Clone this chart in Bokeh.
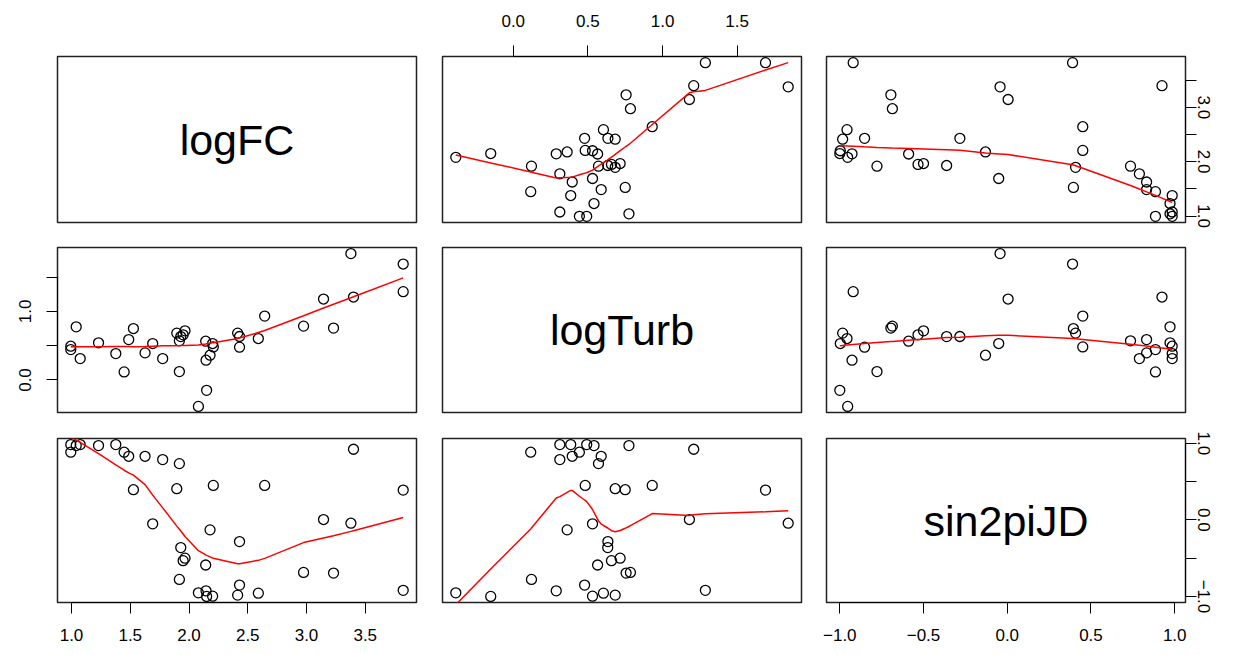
import numpy as np
from bokeh.plotting import figure
from bokeh.models import Range1d, LinearAxis, FixedTicker, Label
from bokeh.layouts import column, row
from bokeh.embed import file_html
from bokeh.resources import INLINE

# ---------------- data ----------------
var_names = ["logFC", "logTurb", "sin2piJD"]

logFC = [0.994, 0.994, 1.040, 1.074, 1.230, 1.377, 1.448, 1.487, 1.527, 1.626,
         1.691, 1.776, 1.896, 1.918, 1.918, 1.930, 1.950, 1.966, 2.080, 2.142,
         2.145, 2.150, 2.179, 2.201, 2.207, 2.414, 2.430, 2.430, 2.590, 2.644,
         2.975, 3.145, 3.230, 3.378, 3.400, 3.823, 3.823]
logTurb = [0.492, 0.443, 0.775, 0.312, 0.541, 0.385, 0.117, 0.589, 0.750, 0.395,
           0.531, 0.312, 0.683, 0.571, 0.122, 0.633, 0.658, 0.716, -0.385, 0.565,
           0.288, -0.151, 0.361, 0.531, 0.482, 0.683, 0.634, 0.478, 0.604, 0.931,
           0.785, 1.180, 0.756, 1.842, 1.209, 1.690, 1.287]
sin2piJD = [0.985, 0.885, 0.972, 0.985, 0.972, 0.985, 0.885, 0.832, 0.395, 0.832,
            -0.051, 0.789, 0.408, 0.736, -0.778, -0.362, -0.533, -0.500, -0.953, -0.589,
            -0.927, -1.000, -0.130, -0.997, 0.451, -0.983, -0.283, -0.852, -0.957, 0.451,
            -0.686, 0.005, -0.695, -0.043, 0.924, 0.390, -0.920]

logFC_ticks = [1.0, 1.5, 2.0, 2.5, 3.0, 3.5]
logFC_bottom_labels = ["1.0", "1.5", "2.0", "2.5", "3.0", "3.5"]
logFC_right_labels = ["1.0", "", "2.0", "", "3.0", ""]
logTurb_ticks = [0.0, 0.5, 1.0, 1.5]
logTurb_top_labels = ["0.0", "0.5", "1.0", "1.5"]
logTurb_left_labels = ["0.0", "", "1.0", ""]
sin_ticks = [-1.0, -0.5, 0.0, 0.5, 1.0]
sin_bottom_labels = ["\u22121.0", "\u22120.5", "0.0", "0.5", "1.0"]
sin_right_labels = ["\u22121.0", "", "0.0", "", "1.0"]

data = [np.array(logFC, float), np.array(logTurb, float), np.array(sin2piJD, float)]


def clowess(x, y, f=2.0 / 3.0, nsteps=3):
    o = np.argsort(x, kind="mergesort")
    x = np.asarray(x, float)[o]
    y = np.asarray(y, float)[o]
    n = len(x)
    rng = x[-1] - x[0]
    delta = 0.01 * rng
    ns = max(min(int(f * n + 1e-7), n), 2)
    rw = np.ones(n)
    ys = np.zeros(n)

    def lowest(xs, nleft, nright, userw):
        h = max(xs - x[nleft], x[nright] - xs)
        h9 = 0.999 * h
        h1 = 0.001 * h
        w = np.zeros(n)
        a = 0.0
        j = nleft
        while j < n:
            r = abs(x[j] - xs)
            if r <= h9:
                w[j] = 1.0 if r <= h1 else (1 - (r / h) ** 3) ** 3
                if userw:
                    w[j] *= rw[j]
                a += w[j]
            elif x[j] > xs:
                break
            j += 1
        nrt = j - 1
        if a <= 0:
            return None
        sl = slice(nleft, nrt + 1)
        w[sl] /= a
        if h > 0:
            a = np.sum(w[sl] * x[sl])
            b = xs - a
            c = np.sum(w[sl] * (x[sl] - a) ** 2)
            if np.sqrt(c) > 0.001 * rng:
                b /= c
                w[sl] *= (b * (x[sl] - a) + 1.0)
        return float(np.sum(w[sl] * y[sl]))

    for it in range(1, nsteps + 2):
        nleft, nright, last, i = 0, ns - 1, -1, 0
        while True:
            if nright < n - 1:
                if x[i] - x[nleft] > x[nright + 1] - x[i]:
                    nleft += 1
                    nright += 1
                    continue
            val = lowest(x[i], nleft, nright, it > 1)
            ys[i] = val if val is not None else y[i]
            if last < i - 1:
                denom = x[i] - x[last]
                for j in range(last + 1, i):
                    al = (x[j] - x[last]) / denom
                    ys[j] = al * ys[i] + (1 - al) * ys[last]
            last = i
            cut = x[last] + delta
            i = last + 1
            while i < n:
                if x[i] > cut:
                    break
                if x[i] == x[last]:
                    ys[i] = ys[last]
                    last = i
                i += 1
            i = max(last + 1, i - 1)
            if last >= n - 1:
                break
        res = y - ys
        sc = np.sum(np.abs(res)) / n
        if it > nsteps:
            break
        ar = np.abs(res)
        cmad = 6 * np.median(ar)
        if cmad < 1e-7 * sc:
            break
        c9, c1 = 0.999 * cmad, 0.001 * cmad
        rw = np.where(ar <= c1, 1.0, np.where(ar <= c9, (1 - (ar / cmad) ** 2) ** 2, 0.0))
    return x, ys


def ext_range(v):
    lo, hi = float(np.min(v)), float(np.max(v))
    d = 0.04 * (hi - lo)
    return lo - d, hi + d


ranges = [ext_range(v) for v in data]

FONT = "Liberation Sans"
col_w = [429, 384, 423]
col_lb = [57, 13, 13]
col_rb = [13, 12, 51]
row_h = [234, 191, 230]
row_tb = [56, 13, 13]
row_bb = [12, 13, 53]


def make_axis(ticks, labels, vertical=False, standoff=14):
    ax = LinearAxis(ticker=FixedTicker(ticks=ticks, minor_ticks=[]),
                    major_label_overrides={float(t): l for t, l in zip(ticks, labels)},
                    bounds=(ticks[0], ticks[-1]))
    ax.axis_line_color = "black"
    ax.axis_line_width = 1
    ax.major_tick_line_color = "black"
    ax.major_tick_out = 11
    ax.major_tick_in = 0
    ax.minor_tick_out = 0
    ax.minor_tick_in = 0
    ax.major_label_text_font = FONT
    ax.major_label_text_font_size = "17px"
    ax.major_label_text_color = "black"
    ax.major_label_standoff = standoff
    if vertical:
        ax.major_label_orientation = "vertical"
    return ax


rows = []
for i in range(3):
    figs = []
    for j in range(3):
        xr = ranges[j]
        yr = ranges[i]
        p = figure(width=col_w[j], height=row_h[i],
                   x_range=Range1d(*xr), y_range=Range1d(*yr),
                   x_axis_location=None, y_axis_location=None,
                   toolbar_location=None, output_backend="svg",
                   min_border_left=col_lb[j], min_border_right=col_rb[j],
                   min_border_top=row_tb[i], min_border_bottom=row_bb[i])
        p.grid.visible = False
        p.outline_line_color = "#222222"
        p.outline_line_width = 1.5
        p.background_fill_color = "white"
        p.border_fill_color = "white"
        if i == j:
            p.add_layout(Label(x=(xr[0] + xr[1]) / 2, y=(yr[0] + yr[1]) / 2,
                               text=var_names[i], text_align="center",
                               text_baseline="middle", text_font=FONT,
                               text_font_size="43px", text_color="black"))
        else:
            xv, yv = data[j], data[i]
            p.scatter(xv, yv, marker="circle", size=10, fill_color=None,
                      line_color="black", line_width=1.3)
            lx, ly = clowess(xv, yv)
            p.line(lx, ly, line_color="red", line_width=1.5)
        # axes as in R's pairs()
        if i == 0 and j == 1:
            p.add_layout(make_axis(logTurb_ticks, logTurb_top_labels, standoff=19), "above")
        if i == 0 and j == 2:
            p.add_layout(make_axis(logFC_ticks, logFC_right_labels, vertical=True, standoff=1), "right")
        if i == 1 and j == 0:
            p.add_layout(make_axis(logTurb_ticks, logTurb_left_labels, vertical=True, standoff=15), "left")
        if i == 2 and j == 0:
            p.add_layout(make_axis(logFC_ticks, logFC_bottom_labels, standoff=15), "below")
        if i == 2 and j == 2:
            p.add_layout(make_axis(sin_ticks, sin_bottom_labels, standoff=15), "below")
            p.add_layout(make_axis(sin_ticks, sin_right_labels, vertical=True, standoff=1), "right")
        figs.append(p)
    rows.append(row(*figs, spacing=0))

layout = column(*rows, spacing=0)
open("out.html", "w").write(file_html(layout, INLINE))
